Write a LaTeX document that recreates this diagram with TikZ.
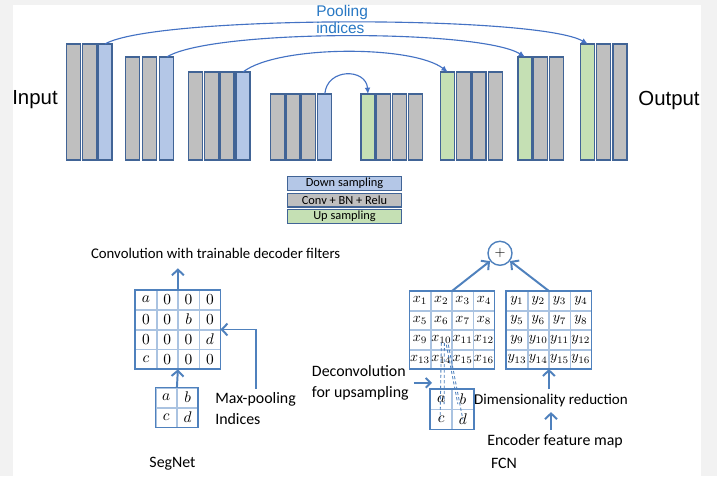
\documentclass[tikz,border=0pt]{standalone}
\usepackage{fontspec}
\setmainfont{Carlito}
\newfontfamily\arialfont{Liberation Sans}
\usetikzlibrary{arrows.meta,matrix,calc}
\definecolor{edgec}{RGB}{65,100,150}
\definecolor{convgray}{RGB}{191,191,191}
\definecolor{downblue}{RGB}{180,199,231}
\definecolor{upgreen}{RGB}{197,224,180}
\definecolor{linkc}{RGB}{68,114,196}
\definecolor{poolblue}{RGB}{40,120,196}
\definecolor{framec}{RGB}{79,129,189}
\definecolor{gridc}{RGB}{170,195,225}
\tikzset{
  bar/.style={draw=edgec, line width=0.8pt, minimum width=0.35cm, inner sep=0pt, outer sep=0pt, anchor=south},
  keybox/.style={draw=edgec, line width=0.8pt, minimum width=2.86cm, minimum height=0.34cm, inner sep=0pt, font=\fontsize{8.8}{10}\selectfont},
  poolarc/.style={draw=linkc, line width=0.8pt, -{Latex[length=4.5pt,width=4pt]}},
  pooltext/.style={text=poolblue, font=\arialfont\fontsize{11}{12.2}\selectfont, align=left, inner sep=0pt},
  side/.style={font=\arialfont\fontsize{14.5}{17}\selectfont},
  note/.style={font=\fontsize{10.5}{12}\selectfont},
  note2/.style={font=\fontsize{11.3}{14.5}\selectfont},
  mat/.style={matrix of math nodes, inner sep=0pt, outer sep=0pt, column sep=0pt, row sep=0pt,
    nodes={draw=gridc, line width=0.5pt, minimum width=0.515cm, minimum height=0.48cm, inner sep=0pt, outer sep=0pt, anchor=center}},
  rim/.style={draw=framec, line width=1.2pt},
  flow/.style={draw=framec, line width=1.4pt, -{Straight Barb[length=4pt,width=8.5pt]}},
  dashline/.style={draw=framec, line width=0.6pt, dash pattern=on 2.2pt off 1.6pt}
}
\begin{document}
\begin{tikzpicture}[x=0.025cm, y=-0.025cm]
\useasboundingbox (0,0) rectangle (717,476);
\fill[black!5] (0,0) rectangle (717,476);
\fill[white] (13,5) rectangle (701,476);

\foreach \x/\f [count=\i] in {73.7/convgray,89.5/convgray,105/downblue}
  \node[bar, fill=\f, minimum height=2.9cm] (e1-\i) at (\x,160) {};
\foreach \x/\f [count=\i] in {132.9/convgray,149.8/convgray,166.8/downblue}
  \node[bar, fill=\f, minimum height=2.575cm] (e2-\i) at (\x,160) {};
\foreach \x/\f [count=\i] in {195.7/convgray,211.3/convgray,227/convgray,243/downblue}
  \node[bar, fill=\f, minimum height=2.2cm] (e3-\i) at (\x,160) {};
\foreach \x/\f [count=\i] in {277.3/convgray,293/convgray,308.7/convgray,324.8/downblue}
  \node[bar, fill=\f, minimum height=1.65cm] (e4-\i) at (\x,160) {};
\foreach \x/\f [count=\i] in {368/upgreen,383.7/convgray,399.5/convgray,415.7/convgray}
  \node[bar, fill=\f, minimum height=1.65cm] (d1-\i) at (\x,160) {};
\foreach \x/\f [count=\i] in {447.7/upgreen,463.3/convgray,479/convgray,495.2/convgray}
  \node[bar, fill=\f, minimum height=2.2cm] (d2-\i) at (\x,160) {};
\foreach \x/\f [count=\i] in {525/upgreen,540.5/convgray,556.2/convgray}
  \node[bar, fill=\f, minimum height=2.575cm] (d3-\i) at (\x,160) {};
\foreach \x/\f [count=\i] in {587.8/upgreen,603.5/convgray,620/convgray}
  \node[bar, fill=\f, minimum height=2.9cm] (d4-\i) at (\x,160) {};

\draw[poolarc] (e1-3.north) .. controls +(50,-29) and +(-50,-29) .. (d4-1.north);
\draw[poolarc] (e2-3.north) .. controls +(45,-28) and +(-45,-28) .. (d3-1.north);
\draw[poolarc] (e3-4.north) .. controls +(35,-27) and +(-35,-27) .. (d2-1.north);
\draw[poolarc] (e4-4.north) .. controls +(2,-26) and +(-2,-26) .. (d1-1.north);
\node[pooltext, anchor=north west] (idx) at (316,5) {Pooling\\indices};

\node[side] (in) at (35,100) {Input};
\node[side] (out) at (669,100) {Output};

\node[keybox, fill=downblue] (kdown) at (344.5,183.7) {Down sampling};
\node[keybox, fill=convgray] (kconv) at (344.5,200.2) {Conv + BN + Relu};
\node[keybox, fill=upgreen] (kup) at (344.5,216.7) {Up sampling};

\node[note, inner ysep=7pt] (conv) at (215.7,253) {Convolution with trainable decoder filters};
\matrix[mat, nodes={font=\fontsize{11}{13}\selectfont}] (seg) at (177.9,329.5) {
  a & 0 & 0 & 0 \\
  0 & 0 & b & 0 \\
  0 & 0 & 0 & d \\
  c & 0 & 0 & 0 \\};
\draw[rim] (seg.north west) rectangle (seg.south east);
\matrix[mat, nodes={font=\fontsize{11}{13}\selectfont}] (sm) at (176.9,407.5) {
  a & b \\
  c & d \\};
\draw[rim] (sm.north west) rectangle (sm.south east);
\draw[flow] (seg.north) -- (seg.north |- conv.south);
\draw[flow] (sm.north) -- (seg.south);
\node[note2, align=left, anchor=north west, inner sep=0pt] (mpool) at (215,392.5) {Max-pooling\\Indices};
\draw[flow] ([yshift=2.5pt]mpool.north) |- (seg.east);
\node[note2] (segnet) at (172.5,464) {SegNet};

\node[circle, draw=framec, line width=1pt, minimum size=0.6cm, inner sep=0pt] (plus) at (500,253.3) {$+$};
\matrix[mat, nodes={minimum height=0.47cm, font=\fontsize{10}{12}\selectfont}] (xm) at (452,330) {
  x_{1} & x_{2} & x_{3} & x_{4} \\
  x_{5} & x_{6} & x_{7} & x_{8} \\
  x_{9} & x_{10} & x_{11} & x_{12} \\
  x_{13} & x_{14} & x_{15} & x_{16} \\};
\draw[rim] (xm.north west) rectangle (xm.south east);
\matrix[mat, nodes={minimum height=0.47cm, font=\fontsize{10}{12}\selectfont}] (ym) at (548.9,330) {
  y_{1} & y_{2} & y_{3} & y_{4} \\
  y_{5} & y_{6} & y_{7} & y_{8} \\
  y_{9} & y_{10} & y_{11} & y_{12} \\
  y_{13} & y_{14} & y_{15} & y_{16} \\};
\draw[rim] (ym.north west) rectangle (ym.south east);
\matrix[mat, nodes={minimum width=0.525cm, minimum height=0.49cm, font=\fontsize{11}{13}\selectfont}] (fs) at (452,409.3) {
  a & b \\
  c & d \\};
\draw[rim] (fs.north west) rectangle (fs.south east);
\draw[dashline] ($(xm-3-2.center)+(0,3)$) -- ($(fs-2-1.center)+(-1,0)$);
\draw[dashline] ($(xm-3-2.center)+(3,3)$) -- ($(fs-1-1.center)+(3,5)$);
\draw[dashline] ($(xm-3-2.center)+(5,5)$) -- ($(fs-1-2.center)+(-5,5)$);
\draw[dashline] ($(xm-3-2.center)+(7,5)$) -- (fs-2-2.center);
\draw[flow] (xm.north) -- (plus);
\draw[flow] (ym.north) -- (plus);
\node[note2, align=left, anchor=north west, inner sep=0pt] (dec) at (311.7,365.5) {Deconvolution\\for upsampling};
\draw[flow, -{Straight Barb[length=3.5pt,width=7pt]}] ([xshift=3.5pt]dec.east) -- ([xshift=16.5pt]dec.east);
\node[note2, font=\fontsize{10.7}{13}\selectfont] (dim) at (551,400.7) {Dimensionality reduction};
\node[note2] (enc) at (555,441.7) {Encoder feature map};
\draw[flow] (dim.north -| ym.south) -- (ym.south);
\draw[flow] (enc.north -| dim.south) -- (dim.south);
\node[note2] (fcn) at (504,463.3) {FCN};
\end{tikzpicture}
\end{document}
